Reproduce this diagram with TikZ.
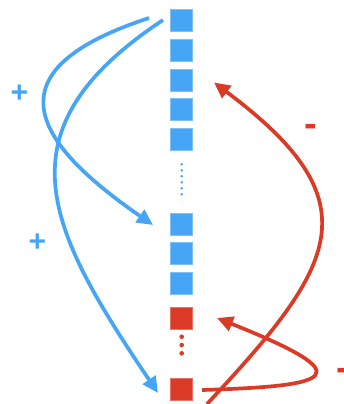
\documentclass[tikz,border=0pt]{standalone}
\usepackage{fontspec}
\setmainfont{Liberation Sans}
\usetikzlibrary{arrows.meta,calc}
\definecolor{cblue}{RGB}{70,165,245}
\definecolor{cred}{RGB}{219,58,38}
\tikzset{
  cell/.style={minimum size=22pt,inner sep=0pt,outer sep=0pt,line width=0.6pt},
  bcell/.style={cell,fill=cblue,draw=cblue!70!white},
  rcell/.style={cell,fill=cred,draw=cred!70!white},
  link/.style={line width=3.7pt,-{Triangle[length=16pt,width=15pt]}},
  sign/.style={font=\bfseries\fontsize{30}{30}\selectfont,inner sep=0pt},
  minus/.style={sign,cred,font=\bfseries\fontsize{38}{38}\selectfont}
}
\begin{document}
\begin{tikzpicture}[x=1pt,y=-1pt]
\useasboundingbox (0,0) rectangle (343,404);
\clip (0,0) rectangle (343,404);
% column of cells
\node[bcell] (s1) at (181.7,20.8) {};
\node[bcell] (s2) at (181.7,50.2) {};
\node[bcell] (s3) at (181.7,80.2) {};
\node[bcell] (s4) at (181.7,109.5) {};
\node[bcell] (s5) at (181.7,139.5) {};
\node[bcell] (s6) at (181.7,224.2) {};
\node[bcell] (s7) at (181.7,253.5) {};
\node[bcell] (s8) at (181.7,282.8) {};
\node[rcell] (s9) at (181.7,318.3) {};
\node[rcell] (s10) at (181.7,389.3) {};
% ellipsis dots
\foreach \y in {164.3,170.3,...,194.4} \fill[cblue] (181.7,\y) circle (1.4);
\foreach \y in {336.7,345,353.3} \fill[cred] (181.7,\y) circle (2.3);
% positive links
\draw[link,cblue] ($(s1.west)+(-21.7,-2.8)$) .. controls (-10,70) and (30,140) .. ($(s6.west)+(-17.7,0.8)$);
\draw[link,cblue] ($(s1.west)+(-7.7,-0.8)$) .. controls (-3,130) and (46,227) .. ($(s10.west)+(-12.7,3.7)$);
% negative links
\draw[link,cred] ($(s10.east)+(14.3,14.7)$) .. controls (338,264) and (374,202) .. ($(s3.east)+(21.3,2.3)$);
\draw[link,cred] ($(s10.east)+(9.3,0.7)$) .. controls (335,386) and (362,376) .. ($(s9.east)+(24.3,-0.3)$);
% signs
\node[sign,cblue] (p1) at (19.5,94) {+};
\node[sign,cblue] (p2) at (37.5,243) {+};
\node[minus] (m1) at (311.3,130) {-};
\node[minus] (m2) at (343,374) {-};
\end{tikzpicture}
\end{document}
